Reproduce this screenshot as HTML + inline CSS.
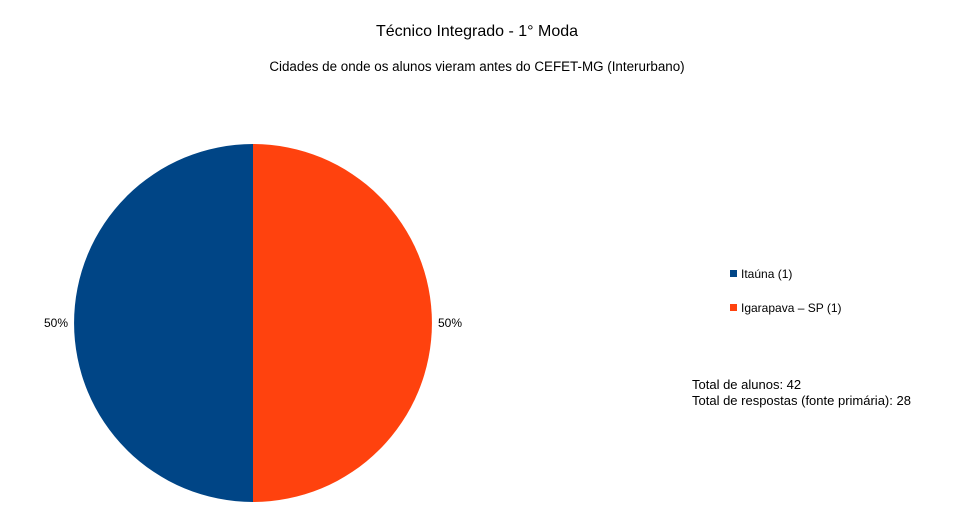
<!DOCTYPE html>
<html><head><meta charset="utf-8"><style>
body{margin:0;background:#fff;font-family:"Liberation Sans",sans-serif;}
svg text{font-family:"Liberation Sans",sans-serif;fill:#000;}
</style></head><body>
<svg width="954" height="524" viewBox="0 0 954 524">
<rect width="954" height="524" fill="#fff"/>
<text x="477" y="36" font-size="16" text-anchor="middle">Técnico Integrado - 1° Moda</text>
<text x="477" y="71" font-size="13.4" text-anchor="middle">Cidades de onde os alunos vieram antes do CEFET-MG (Interurbano)</text>
<g id="pie"></g>
<g id="legend"></g>
<text x="692" y="389" font-size="13">Total de alunos: 42</text>
<text x="692" y="405" font-size="13">Total de respostas (fonte primária): 28</text>
</svg>
<script>
const categories = ["Itaúna (1)", "Igarapava – SP (1)"];
const values = [1, 1];
const colors = ["#004586", "#ff420e"];
const NS = "http://www.w3.org/2000/svg";
const cx = 253, cy = 323, r = 179;
const pie = document.getElementById('pie');
const legend = document.getElementById('legend');
const total = values.reduce((a,b)=>a+b,0);
let a0 = -Math.PI/2;
values.forEach((v,i)=>{
  const sweep = v/total*2*Math.PI;
  const a1 = a0 - sweep;
  const x0 = cx + r*Math.cos(a0), y0 = cy + r*Math.sin(a0);
  const x1 = cx + r*Math.cos(a1), y1 = cy + r*Math.sin(a1);
  const large = sweep > Math.PI ? 1 : 0;
  const p = document.createElementNS(NS,'path');
  let d;
  if (v === total) d = `M${cx-r},${cy}a${r},${r} 0 1,0 ${2*r},0a${r},${r} 0 1,0 ${-2*r},0Z`;
  else d = `M${cx},${cy}L${x0},${y0}A${r},${r} 0 ${large},0 ${x1},${y1}Z`;
  p.setAttribute('d', d);
  p.setAttribute('fill', colors[i]);
  
  
  pie.appendChild(p);
  const am = a0 - sweep/2;
  const lx = cx + (r+6)*Math.cos(am), ly = cy + (r+6)*Math.sin(am);
  const t = document.createElementNS(NS,'text');
  t.setAttribute('x', lx);
  t.setAttribute('y', ly + 4);
  t.setAttribute('font-size', '12');
  t.setAttribute('text-anchor', Math.cos(am) < 0 ? 'end' : 'start');
  t.textContent = Math.round(v/total*100) + '%';
  
  
  pie.appendChild(t);
  a0 = a1;
  const ey = 274 + i*34;
  const sq = document.createElementNS(NS,'rect');
  sq.setAttribute('x', 730); sq.setAttribute('y', ey-4);
  sq.setAttribute('width', 7); sq.setAttribute('height', 7);
  sq.setAttribute('fill', colors[i]);
  
  
  legend.appendChild(sq);
  const lt = document.createElementNS(NS,'text');
  lt.setAttribute('x', 741); lt.setAttribute('y', ey+4);
  lt.setAttribute('font-size', '12');
  lt.textContent = categories[i];
  
  
  legend.appendChild(lt);
});
</script>
</body></html>
